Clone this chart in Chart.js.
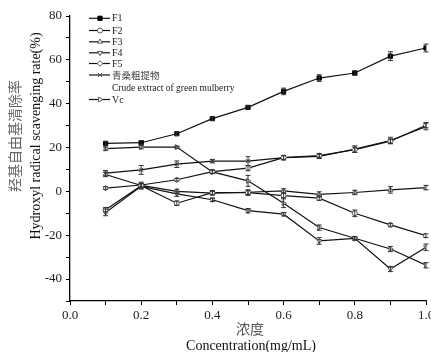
<!DOCTYPE html>
<html>
<head>
<meta charset="utf-8">
<script src="https://cdn.jsdelivr.net/npm/chart.js@4.4.1/dist/chart.umd.min.js"></script>
<style>
html,body{margin:0;padding:0;background:#fff;overflow:hidden;}
#wrap{position:relative;width:431px;height:352px;}
</style>
</head>
<body>
<div id="wrap"><canvas id="c" width="431" height="352"></canvas></div>
<script>
// ---- data ----
const concentrations = [0.1, 0.2, 0.3, 0.4, 0.5, 0.6, 0.7, 0.8, 0.9, 1.0];
const seriesNames = ["F1", "F2", "F3", "F4", "F5", "青桑粗提物", "Vc"];
const legendSubLabel = "Crude extract of green mulberry";
const F1 = [21.9, 22.2, 26.3, 33.2, 38.3, 45.6, 51.7, 54.0, 61.7, 65.4];
const F2 = [-8.4, 2.6, -5.4, -0.6, -0.6, -1.9, -3.1, -10.0, -15.3, -20.2];
const F3 = [7.7, 2.7, 0.0, -0.8, -0.4, 0.2, -1.4, -0.5, 0.7, 1.7];
const F4 = [-9.6, 2.3, -1.1, -3.8, -8.8, -10.4, -22.6, -21.4, -35.4, -25.5];
const F5 = [1.5, 2.9, 5.3, 9.0, 10.6, 15.4, 16.3, 19.0, 22.9, 30.2];
const crude = [8.3, 9.8, 12.4, 13.8, 13.8, 15.4, 16.0, 19.3, 23.2, 29.6];
const Vc = [19.5, 20.2, 20.2, 8.9, 4.8, -5.4, -16.5, -21.4, -26.3, -33.7];
const errF1 = [0.8, 1.0, 0.8, 0.8, 0.8, 1.5, 1.5, 1.0, 2.0, 1.8];
const errF2 = [1.0, 1.0, 1.0, 1.0, 1.2, 1.0, 1.0, 1.5, 0.6, 0.8];
const errF3 = [1.0, 1.5, 1.0, 0.8, 1.0, 1.0, 1.2, 1.0, 1.5, 1.0];
const errF4 = [1.5, 1.2, 1.2, 0.8, 1.0, 0.8, 1.5, 0.8, 1.2, 1.5];
const errF5 = [0.6, 0.8, 0.6, 0.8, 1.2, 1.0, 1.0, 1.2, 1.0, 1.2];
const errCrude = [1.2, 2.0, 1.5, 0.8, 2.0, 1.0, 1.0, 1.5, 1.5, 1.5];
const errVc = [0.8, 0.8, 0.5, 0.8, 2.5, 2.0, 1.2, 0.8, 1.2, 1.2];
const yTicks = [-40, -20, 0, 20, 40, 60, 80];
const xTicks = [0.0, 0.2, 0.4, 0.6, 0.8, 1.0];
const xTitleCN = "浓度";
const xTitleEN = "Concentration(mg/mL)";
const yTitleCN = "羟基自由基清除率";
const yTitleEN = "Hydroxyl radical scavenging rate(%)";

const values = [F1, F2, F3, F4, F5, crude, Vc];
const errors = [errF1, errF2, errF3, errF4, errF5, errCrude, errVc];
const styles = [
  {ps: 'rect', rot: 0, r: 3, fill: '#000', stroke: '#000'},
  {ps: 'circle', rot: 0, r: 2.5, fill: '#fff', stroke: '#555'},
  {ps: 'triangle', rot: 0, r: 2.8, fill: '#fff', stroke: '#555'},
  {ps: 'triangle', rot: 180, r: 2.8, fill: '#fff', stroke: '#555'},
  {ps: 'rectRot', rot: 0, r: 2.8, fill: '#fff', stroke: '#555'},
  {ps: 'crossRot', rot: 0, r: 3, fill: '#fff', stroke: '#444'},
  {ps: 'triangle', rot: 90, r: 2.8, fill: '#fff', stroke: '#555'}
];

const datasets = values.map((v, k) => ({
  label: seriesNames[k],
  data: concentrations.map((c, i) => ({x: c, y: v[i]})),
  borderColor: '#111',
  borderWidth: 1.2,
  pointStyle: styles[k].ps,
  rotation: styles[k].rot,
  pointRadius: styles[k].r,
  pointBackgroundColor: styles[k].fill,
  pointBorderColor: styles[k].stroke,
  pointBorderWidth: 1,
  tension: 0,
  fill: false
}));

const errorBarPlugin = {
  id: 'errorBars',
  afterDatasetsDraw(chart) {
    const ctx = chart.ctx, ys = chart.scales.y;
    ctx.save();
    ctx.strokeStyle = '#333';
    ctx.lineWidth = 1;
    chart.data.datasets.forEach((ds, k) => {
      const meta = chart.getDatasetMeta(k);
      meta.data.forEach((pt, i) => {
        const v = values[k][i], e = errors[k][i];
        const y1 = ys.getPixelForValue(v + e), y2 = ys.getPixelForValue(v - e);
        const x = pt.x;
        ctx.beginPath();
        ctx.moveTo(x, y1); ctx.lineTo(x, y2);
        ctx.moveTo(x - 2.5, y1); ctx.lineTo(x + 2.5, y1);
        ctx.moveTo(x - 2.5, y2); ctx.lineTo(x + 2.5, y2);
        ctx.stroke();
      });
    });
    ctx.restore();
  }
};

const textPlugin = {
  id: 'texts',
  afterDraw(chart) {
    const ctx = chart.ctx;
    ctx.save();
    ctx.textAlign = 'center';
    ctx.textBaseline = 'middle';
    ctx.save();
    ctx.translate(15, 136);
    ctx.rotate(-Math.PI / 2);
    ctx.fillStyle = '#666';
    ctx.font = '14px "Noto Sans CJK SC"';
    ctx.fillText(yTitleCN, 0, 0);
    ctx.restore();
    ctx.save();
    ctx.translate(36, 136);
    ctx.rotate(-Math.PI / 2);
    ctx.fillStyle = '#111';
    ctx.font = '14px "Liberation Serif"';
    ctx.fillText(yTitleEN, 0, 0);
    ctx.restore();
    ctx.fillStyle = '#555';
    ctx.font = '14px "Noto Sans CJK SC"';
    ctx.fillText(xTitleCN, 250, 329);
    ctx.fillStyle = '#111';
    ctx.font = '14px "Liberation Serif"';
    ctx.fillText(xTitleEN, 251, 346);
    // legend
    const rows = [18.3, 30.5, 41.8, 52.8, 63.5, 75, 99.5];
    ctx.textAlign = 'left';
    rows.forEach((ry, k) => {
      ctx.strokeStyle = '#111';
      ctx.lineWidth = 1.2;
      ctx.beginPath();
      ctx.moveTo(89, ry); ctx.lineTo(110, ry);
      ctx.stroke();
      const s = styles[k];
      ctx.fillStyle = s.fill;
      ctx.strokeStyle = s.stroke;
      ctx.lineWidth = 1;
      Chart.helpers.drawPoint(ctx, {pointStyle: s.ps, rotation: s.rot, radius: s.r, borderWidth: 1}, 100, ry);
      if (k === 5) {
        ctx.fillStyle = '#444';
        ctx.font = '9.5px "Noto Sans CJK SC"';
      } else {
        ctx.fillStyle = '#222';
        ctx.font = '10px "Liberation Serif"';
      }
      ctx.fillText(seriesNames[k], 112, ry + 0.5);
    });
    ctx.fillStyle = '#222';
    ctx.font = '9.5px "Liberation Serif"';
    ctx.fillText(legendSubLabel, 112, 88);
    ctx.restore();
  }
};

new Chart(document.getElementById('c'), {
  type: 'line',
  data: {datasets},
  plugins: [errorBarPlugin, textPlugin],
  options: {
    responsive: false,
    animation: false,
    devicePixelRatio: 1,
    layout: {padding: {left: 0, right: 5, top: 16, bottom: 0}},
    plugins: {legend: {display: false}, tooltip: {enabled: false}},
    scales: {
      x: {
        type: 'linear', min: 0, max: 1,
        afterBuildTicks(scale) {
          const t = [];
          for (let i = 0; i <= 10; i++) t.push({value: i / 10});
          scale.ticks = t;
        },
        afterFit(scale) { scale.height = 51; scale.paddingLeft = 0; scale.paddingRight = 0; },
        border: {display: true, color: '#000', width: 1.3},
        grid: {drawOnChartArea: false, drawTicks: true, tickLength: 4, color: '#000', tickColor: '#000'},
        ticks: {
          autoSkip: false, maxRotation: 0, padding: 3, color: '#222',
          font: {family: 'Liberation Serif', size: 13},
          callback: (v) => {
            const m = xTicks.find(t => Math.abs(t - v) < 1e-6);
            return m === undefined ? '' : m.toFixed(1);
          }
        }
      },
      y: {
        type: 'linear', min: -50, max: 80,
        afterBuildTicks(scale) {
          const t = [];
          for (let v = -50; v <= 80; v += 10) t.push({value: v});
          scale.ticks = t;
        },
        afterFit(scale) { scale.width = 70; scale.paddingTop = 0; scale.paddingBottom = 0; },
        border: {display: true, color: '#000', width: 1.3},
        grid: {drawOnChartArea: false, drawTicks: true, tickLength: 4, color: '#000', tickColor: '#000'},
        ticks: {
          autoSkip: false, padding: 4, color: '#222',
          font: {family: 'Liberation Serif', size: 13},
          callback: (v) => yTicks.includes(v) ? String(v) : ''
        }
      }
    }
  }
});
</script>
</body>
</html>
